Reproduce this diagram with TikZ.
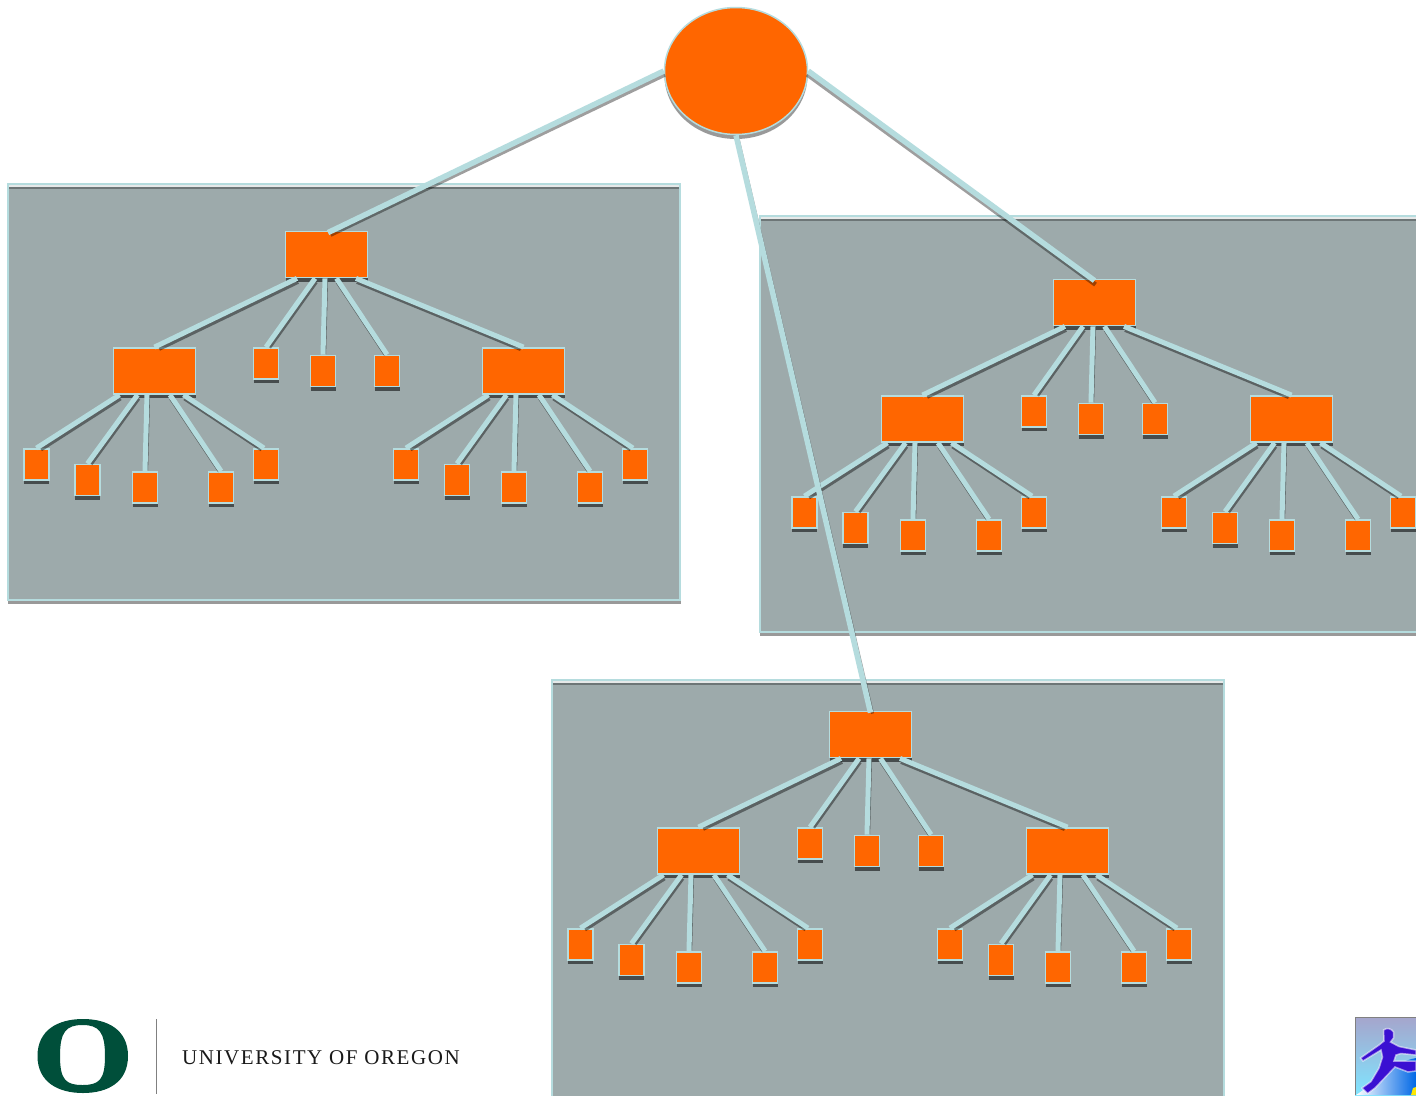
\documentclass[tikz,border=0pt]{standalone}
\usepackage{fontspec}
\setmainfont{Liberation Serif}
\newfontfamily\uofont[LetterSpace=7.5]{Liberation Serif}
\usetikzlibrary{calc,shadows,shapes.geometric}
\definecolor{orng}{HTML}{FF6600}
\definecolor{lblue}{HTML}{B5DCDE}
\definecolor{panelgrey}{HTML}{9DAAAB}
\definecolor{uogreen}{HTML}{004F3A}
\tikzset{
  x=1pt,y=-1pt,
  boxbase/.style={draw=lblue,line width=1.8pt,fill=orng,inner sep=0pt,
    general shadow={shadow xshift=0pt,shadow yshift=-4pt,fill=black,fill opacity=.55,draw opacity=0}},
  bigbox/.style={boxbase,minimum width=82pt,minimum height=46pt},
  smallbox/.style={boxbase,minimum width=25pt,minimum height=31pt},
  panel/.style={draw=lblue,line width=1.5pt,fill=panelgrey},
  panelshade/.style={fill=black,fill opacity=.4,draw=none},
  linkline/.style={draw=lblue,line width=5pt},
  linkshade/.style={draw=black,draw opacity=.42,line width=4pt,shorten >=4pt},
  toplink/.style={draw=lblue,line width=5.5pt},
  topshade/.style={draw=black,draw opacity=.38,line width=4.5pt},
}
% link: from a.south + offset to b.north + offset
\newcommand{\lnk}[4]{%
  \draw[linkshade] ($(#1.south)+(#2+1,3.5)$) -- ($(#3.north)+(#4+1,3.5)$);
  \draw[linkline] ($(#1.south)+(#2,0)$) -- ($(#3.north)+(#4,0)$);}
% tree nodes, offset by dx,dy from the first tree
\newcommand{\treenodes}[3]{%
  \def\dx{#2}\def\dy{#3}%
  \node[bigbox] (#1r) at ({\dx+326.5},{\dy+254.5}) {};
  \node[bigbox] (#1a) at ({\dx+154.5},{\dy+371}) {};
  \node[bigbox] (#1b) at ({\dx+523.5},{\dy+371}) {};
  \node[smallbox] (#1m1) at ({\dx+266},{\dy+363.5}) {};
  \node[smallbox] (#1m2) at ({\dx+323},{\dy+371}) {};
  \node[smallbox] (#1m3) at ({\dx+387},{\dy+371}) {};
  \node[smallbox] (#1a1) at ({\dx+36.5},{\dy+464.5}) {};
  \node[smallbox] (#1a2) at ({\dx+87.5},{\dy+480}) {};
  \node[smallbox] (#1a3) at ({\dx+145},{\dy+487.5}) {};
  \node[smallbox] (#1a4) at ({\dx+221},{\dy+487.5}) {};
  \node[smallbox] (#1a5) at ({\dx+266},{\dy+464.5}) {};
  \node[smallbox] (#1b1) at ({\dx+406},{\dy+464.5}) {};
  \node[smallbox] (#1b2) at ({\dx+457},{\dy+480}) {};
  \node[smallbox] (#1b3) at ({\dx+514},{\dy+487.5}) {};
  \node[smallbox] (#1b4) at ({\dx+590},{\dy+487.5}) {};
  \node[smallbox] (#1b5) at ({\dx+635},{\dy+464.5}) {};
}
\newcommand{\treelinks}[1]{%
  \lnk{#1r}{-29.5}{#1a}{0}
  \lnk{#1r}{-11.5}{#1m1}{0}
  \lnk{#1r}{-1.5}{#1m2}{0}
  \lnk{#1r}{10}{#1m3}{0}
  \lnk{#1r}{29.5}{#1b}{0}
  \lnk{#1a}{-35}{#1a1}{0}
  \lnk{#1a}{-17}{#1a2}{0}
  \lnk{#1a}{-7.5}{#1a3}{0}
  \lnk{#1a}{15.5}{#1a4}{0}
  \lnk{#1a}{29}{#1a5}{-2}
  \lnk{#1b}{-35}{#1b1}{0}
  \lnk{#1b}{-17}{#1b2}{0}
  \lnk{#1b}{-7.5}{#1b3}{0}
  \lnk{#1b}{15.5}{#1b4}{0}
  \lnk{#1b}{29}{#1b5}{-2}
}
\begin{document}
\begin{tikzpicture}
\clip (0,0) rectangle (1416,1095);
\fill[white] (0,0) rectangle (1416,1095);
% panels
\fill[panelshade] (8,190) rectangle (681,604);
\filldraw[panel] (8,184) rectangle (680,600);
\fill[white,opacity=.75] (9,185) rectangle (679,186.5);
\fill[black,opacity=.3] (9,186.5) rectangle (679,188.5);
\fill[panelshade] (760,222) rectangle (1430,636);
\filldraw[panel] (760,216) rectangle (1430,632);
\fill[white,opacity=.75] (761,217) rectangle (1430,218.5);
\fill[black,opacity=.3] (761,218.5) rectangle (1430,220.5);
\filldraw[panel] (552,680) rectangle (1224,1110);
\fill[white,opacity=.75] (553,681) rectangle (1223,682.5);
\fill[black,opacity=.3] (553,682.5) rectangle (1223,684.5);
% nodes
\treenodes{p}{0}{0}
\treenodes{q}{768}{48}
\treenodes{s}{544}{480}
\node[draw=lblue,line width=1.5pt,fill=orng,shape=ellipse,inner sep=0pt,
  minimum width=143pt,minimum height=127pt,
  general shadow={shadow xshift=0pt,shadow yshift=-4.5pt,fill=black,fill opacity=.4,draw opacity=0}]
  (top) at (736,71) {};
% connectors
\treelinks{p}
\treelinks{q}
\treelinks{s}
\draw[topshade] ($(top.west)+(1,3.5)$) -- ($(pr.north)+(4,4)$);
\draw[toplink] (top.west) -- ($(pr.north)+(1.5,2)$);
\draw[topshade] ($(top.east)+(-1,3.5)$) -- ($(qr.north)+(1,6)$);
\draw[toplink] (top.east) -- ($(qr.north)+(0,2)$);
\draw[topshade,line width=3pt] ($(top.south)+(1.5,1)$) -- ($(sr.north)+(2,3)$);
\draw[toplink] (top.south) -- ($(sr.north)+(0,2)$);
% Oregon logo
\fill[uogreen,even odd rule]
  (37.5,1056) .. controls (37.5,1030) and (58,1019) .. (83,1019)
  .. controls (108,1019) and (128,1030) .. (128,1056)
  .. controls (128,1082) and (108,1093) .. (83,1093)
  .. controls (58,1093) and (37.5,1082) .. (37.5,1056) --cycle
  (60,1056) .. controls (60,1032) and (66,1025) .. (82.5,1025)
  .. controls (99,1025) and (105,1032) .. (105,1056)
  .. controls (105,1080) and (99,1085) .. (82.5,1085)
  .. controls (66,1085) and (60,1080) .. (60,1056) --cycle;
\draw[gray,line width=1pt] (156,1019) -- (156,1094);
\node[anchor=west,inner sep=0pt,text=black!90,font=\uofont\fontsize{21}{21}\selectfont] (uo) at (182,1057.5) {UNIVERSITY OF OREGON};
% person icon
\shade[top color=blue!28!gray!55!white,middle color=blue!10!white,bottom color=blue!20!cyan!50!white] (1355,1017) rectangle (1416,1095);
\shade[left color=white,right color=blue!55!cyan!90!black] (1356,1095) .. controls (1372,1085) and (1392,1062) .. (1416,1058) -- (1416,1095) -- cycle;
\fill[yellow!90!orange] (1411,1095) -- (1413,1088) -- (1416,1087) -- (1416,1095) -- cycle;
\path[fill={rgb,255:red,58;green,16;blue,210},draw=white,draw opacity=.55,line width=1.5pt]
  (1383.5,1030) .. controls (1387,1027) and (1392,1029) .. (1393.5,1032)
  -- (1393.5,1038) -- (1390.5,1042) -- (1399,1046.5) -- (1416,1050) -- (1416,1055)
  -- (1401,1053.5) -- (1396,1055) -- (1394,1061) -- (1416,1061) -- (1416,1071)
  -- (1408,1072) -- (1395,1067) -- (1375,1088) -- (1367.5,1093.5) -- (1362,1088)
  -- (1371,1081.5) -- (1379,1068) -- (1382.5,1057) -- (1381,1050) -- (1363,1061)
  -- (1360.5,1058) -- (1379,1045) -- (1384,1041) -- cycle;
\draw[gray,line width=.8pt] (1355,1095) -- (1355,1017) -- (1416,1017);
\end{tikzpicture}
\end{document}
